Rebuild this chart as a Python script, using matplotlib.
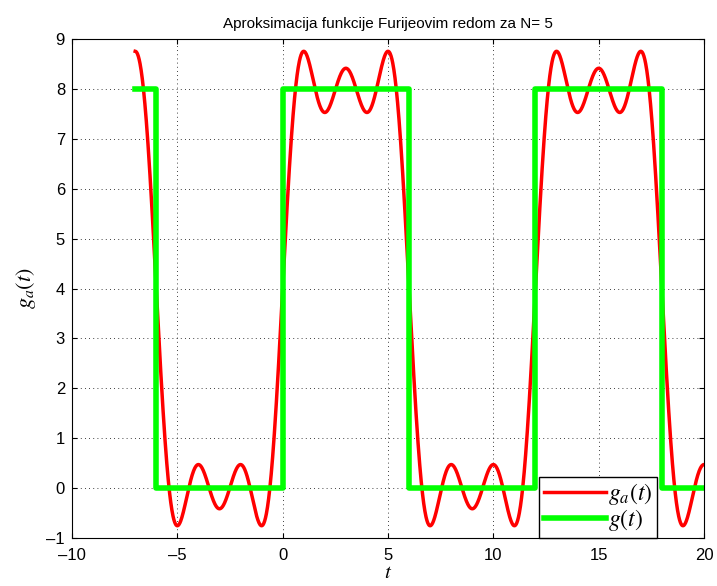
import numpy as np
import matplotlib.pyplot as plt

plt.rcParams["mathtext.fontset"] = "stix"
plt.rcParams["font.family"] = ["Liberation Sans", "DejaVu Sans"]

# square wave g(t): breakpoints and levels
step_t = [-7, -6, 0, 6, 12, 18, 20]
step_g = [8, 0, 8, 0, 8, 0, 0]

# Fourier approximation g_a(t), N = 5 (odd sine harmonics)
period = 12
offset = 4
harmonics = [1, 3, 5]
amplitudes = [5.093, 1.698, 1.019]

t = np.linspace(-7, 20, 2000)
ga = offset + sum(a * np.sin(2 * np.pi * k * t / period)
                  for k, a in zip(harmonics, amplitudes))

fig = plt.figure(figsize=(7.17, 5.86), dpi=100)
ax = fig.add_axes([0.1004, 0.0819, 0.8815, 0.8515])

ax.plot(t, ga, color="red", lw=2.5, label="$g_a(t)$")
ax.step(step_t, step_g, where="post", color="#00ff00", lw=4, label="$g(t)$")

ax.set_xlim(-10, 20)
ax.set_ylim(-1, 9)
ax.set_xticks(np.arange(-10, 21, 5))
ax.set_yticks(np.arange(-1, 10, 1))
ax.set_xticklabels(["\u201310", "\u20135", "0", "5", "10", "15", "20"])
ax.set_yticklabels(["\u20131"] + [str(v) for v in range(0, 10)])
ax.tick_params(direction="in", top=True, right=True, labelsize=12)
ax.tick_params(axis="x", pad=7)
ax.tick_params(axis="y", pad=5)
ax.grid(True, color="black", linestyle=(0, (1, 4)), linewidth=0.6)

ax.set_title("Aproksimacija funkcije Furijeovim redom za N= 5", fontsize=11, pad=8)
ax.set_xlabel("$t$", fontsize=15, labelpad=0)
ax.set_ylabel("$g_a(t)$", fontsize=16, labelpad=6)

leg = ax.legend(loc="lower right", bbox_to_anchor=(0.9256, 0.0), fontsize=17,
                fancybox=False, edgecolor="black", framealpha=1,
                borderaxespad=0.0, handlelength=2.6, handletextpad=0.1,
                borderpad=0.2, labelspacing=0.0)
leg.get_frame().set_linewidth(1)

fig.savefig("out.png", dpi=100)
